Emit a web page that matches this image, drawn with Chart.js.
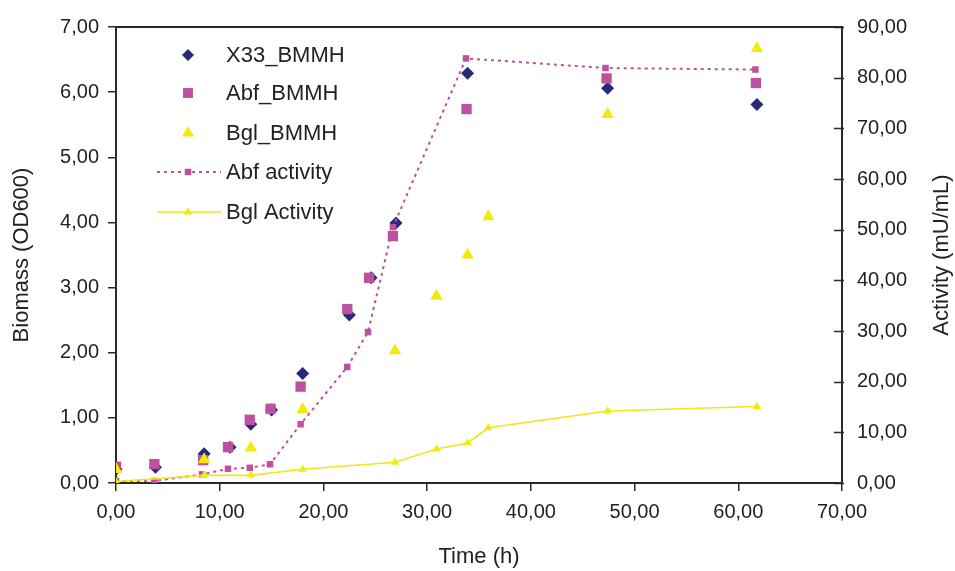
<!DOCTYPE html>
<html>
<head>
<meta charset="utf-8">
<script src="https://cdn.jsdelivr.net/npm/chart.js@4.4.1/dist/chart.umd.min.js"></script>
<style>
  html, body { margin: 0; padding: 0; background: #ffffff; }
  #wrap { width: 955px; height: 571px; position: relative; }
</style>
</head>
<body>
<div id="wrap"><canvas id="c" width="955" height="571"></canvas></div>
<script>
// ---- Data ----
const xTicks = [0, 10, 20, 30, 40, 50, 60, 70];
const yTicks = [0, 1, 2, 3, 4, 5, 6, 7];
const y1Ticks = [0, 10, 20, 30, 40, 50, 60, 70, 80, 90];

const seriesLabels = ["X33_BMMH", "Abf_BMMH", "Bgl_BMMH", "Abf activity", "Bgl Activity"];

const tX33 = [0, 3.8, 8.5, 11, 13, 15, 18, 22.5, 24.6, 27, 33.9, 47.4, 61.8];
const bX33 = [0.21, 0.24, 0.45, 0.55, 0.90, 1.12, 1.68, 2.58, 3.15, 3.99, 6.29, 6.06, 5.81];

const tAbf = [0, 3.7, 8.4, 10.8, 12.9, 14.9, 17.8, 22.3, 24.4, 26.7, 33.8, 47.3, 61.7];
const bAbf = [0.25, 0.29, 0.35, 0.55, 0.97, 1.14, 1.48, 2.67, 3.15, 3.79, 5.74, 6.21, 6.14];

const tBgl = [0, 8.5, 13, 18, 26.9, 30.9, 33.9, 35.9, 47.4, 61.8];
const bBgl = [0.21, 0.36, 0.54, 1.13, 2.03, 2.87, 3.50, 4.09, 5.66, 6.67];

const tAbfAct = [0, 3.7, 8.3, 10.8, 12.9, 14.85, 17.8, 22.3, 24.3, 26.7, 33.75, 47.2, 61.65];
const aAbf = [0.4, 0.4, 1.7, 2.8, 3.0, 3.7, 11.6, 22.9, 29.8, 50.5, 83.8, 81.9, 81.6];

const tBglAct = [0, 8.5, 13, 18, 26.9, 30.9, 33.9, 35.9, 47.4, 61.8];
const aBgl = [0.3, 1.5, 1.5, 2.7, 4.1, 6.7, 7.9, 10.9, 14.2, 15.1];

// ---- Styling ----
const FONT = "'Liberation Sans', Arial, Helvetica, sans-serif";
const AXIS = '#2a2a2a';
const NAVY = '#29297a';
const MAGENTA = '#be519f';
const YELLOW = '#f2ea0a';
const YLINE = '#eee818';

function pts(xs, ys) { return xs.map((x, i) => ({ x: x, y: ys[i] })); }
function fmt(v) { return Number(v).toFixed(2).replace('.', ','); }
function setTicks(arr) { return function (scale) { scale.ticks = arr.map(v => ({ value: v })); }; }

// custom plugin: top border, right-axis inward ticks, right title, legend
const decor = {
  id: 'decor',
  afterDraw(chart) {
    const ctx = chart.ctx;
    const a = chart.chartArea;
    const y1 = chart.scales.y1;
    ctx.save();
    // top border
    ctx.strokeStyle = AXIS;
    ctx.lineWidth = 2;
    ctx.beginPath();
    ctx.moveTo(a.left, a.top);
    ctx.lineTo(a.right + 1, a.top);
    ctx.stroke();
    // right axis inward ticks
    ctx.lineWidth = 1.5;
    y1.ticks.forEach(t => {
      const p = Math.round(y1.getPixelForValue(t.value)) + 0.5;
      ctx.beginPath();
      ctx.moveTo(a.right - 8, p);
      ctx.lineTo(a.right + 2, p);
      ctx.stroke();
    });
    // right title (reads bottom to top)
    ctx.fillStyle = '#222';
    ctx.font = "22px " + FONT;
    ctx.textAlign = 'center';
    ctx.textBaseline = 'middle';
    ctx.translate(942, (a.top + a.bottom) / 2);
    ctx.rotate(-Math.PI / 2);
    ctx.fillText('Activity (mU/mL)', 0, 0);
    ctx.restore();

    // legend
    ctx.save();
    const rows = [55, 93, 133, 172, 212];
    const mx = 188, tx = 226;
    chart.data.datasets.forEach((ds, i) => {
      const y = rows[i];
      if (ds.showLine) {
        ctx.save();
        ctx.strokeStyle = ds.borderColor;
        ctx.lineWidth = ds.borderWidth;
        ctx.setLineDash(ds.borderDash || []);
        ctx.beginPath();
        ctx.moveTo(157, y);
        ctx.lineTo(221, y);
        ctx.stroke();
        ctx.restore();
      }
      ctx.fillStyle = ds.pointBackgroundColor;
      ctx.strokeStyle = ds.pointBackgroundColor;
      Chart.helpers.drawPoint(ctx, {
        pointStyle: ds.pointStyle,
        radius: ds.legendRadius,
        borderWidth: 0,
        rotation: 0
      }, mx, y);
      ctx.fillStyle = '#222';
      ctx.font = "22px " + FONT;
      ctx.textAlign = 'left';
      ctx.textBaseline = 'middle';
      ctx.fillText(ds.label, tx, y + 1);
    });
    ctx.restore();
  }
};

const chart = new Chart(document.getElementById('c'), {
  type: 'scatter',
  data: {
    datasets: [
      {
        label: seriesLabels[0], data: pts(tX33, bX33), yAxisID: 'y',
        pointStyle: 'rectRot', pointRadius: 6.5, legendRadius: 6,
        pointBackgroundColor: NAVY, pointBorderColor: NAVY, pointBorderWidth: 0,
        showLine: false, order: 5
      },
      {
        label: seriesLabels[1], data: pts(tAbf, bAbf), yAxisID: 'y',
        pointStyle: 'rect', pointRadius: 7.3, legendRadius: 7,
        pointBackgroundColor: MAGENTA, pointBorderColor: MAGENTA, pointBorderWidth: 0,
        showLine: false, order: 4
      },
      {
        label: seriesLabels[2], data: pts(tBgl, bBgl), yAxisID: 'y',
        pointStyle: 'triangle', pointRadius: 7.2, legendRadius: 7,
        pointBackgroundColor: YELLOW, pointBorderColor: YELLOW, pointBorderWidth: 0,
        showLine: false, order: 3
      },
      {
        label: seriesLabels[3], data: pts(tAbfAct, aAbf), yAxisID: 'y1',
        pointStyle: 'rect', pointRadius: 4.6, legendRadius: 4.6,
        pointBackgroundColor: MAGENTA, pointBorderColor: MAGENTA, pointBorderWidth: 0,
        showLine: true, borderColor: MAGENTA, borderWidth: 2, borderDash: [3, 4],
        tension: 0, order: 2
      },
      {
        label: seriesLabels[4], data: pts(tBglAct, aBgl), yAxisID: 'y1',
        pointStyle: 'triangle', pointRadius: 4.8, legendRadius: 5,
        pointBackgroundColor: YELLOW, pointBorderColor: YELLOW, pointBorderWidth: 0,
        showLine: true, borderColor: YLINE, borderWidth: 1.6,
        tension: 0, order: 1
      }
    ]
  },
  options: {
    responsive: false,
    animation: false,
    events: [],
    layout: { padding: { top: 19, left: 0, right: 0, bottom: 0 } },
    plugins: { legend: { display: false }, tooltip: { enabled: false } },
    scales: {
      x: {
        type: 'linear', min: 0, max: 70,
        afterBuildTicks: setTicks(xTicks),
        afterFit(s) { s.height = 88; },
        grid: { drawOnChartArea: false, drawTicks: true, tickLength: 8, color: AXIS, lineWidth: 1.5 },
        border: { display: true, color: AXIS, width: 2 },
        ticks: { padding: 9, color: '#222', font: { family: FONT, size: 20 }, callback: v => fmt(v), maxRotation: 0, autoSkip: false },
        title: { display: true, text: 'Time (h)', color: '#222', font: { family: FONT, size: 22 }, padding: { top: 0, bottom: 1 } }
      },
      y: {
        type: 'linear', position: 'left', min: 0, max: 7,
        afterBuildTicks: setTicks(yTicks),
        afterFit(s) { s.width = 116; },
        grid: { drawOnChartArea: false, drawTicks: true, tickLength: 8, color: AXIS, lineWidth: 1.5 },
        border: { display: true, color: AXIS, width: 2 },
        ticks: { padding: 9, color: '#222', font: { family: FONT, size: 20 }, callback: v => fmt(v), autoSkip: false },
        title: { display: true, text: 'Biomass (OD600)', color: '#222', font: { family: FONT, size: 22 }, padding: { top: 9, bottom: 0 } }
      },
      y1: {
        type: 'linear', position: 'right', min: 0, max: 90,
        afterBuildTicks: setTicks(y1Ticks),
        afterFit(s) { s.width = 113; },
        grid: { drawOnChartArea: false, drawTicks: false },
        border: { display: true, color: AXIS, width: 2 },
        ticks: { padding: 15, color: '#222', font: { family: FONT, size: 20 }, callback: v => fmt(v), autoSkip: false }
      }
    }
  },
  plugins: [decor]
});
</script>
</body>
</html>
